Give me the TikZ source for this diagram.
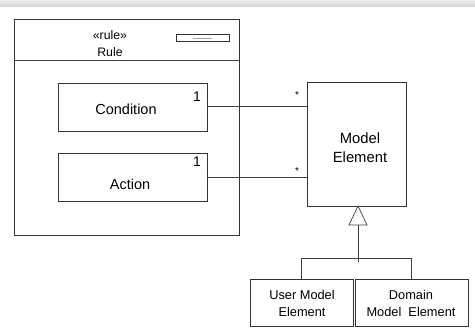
\documentclass[tikz,border=0pt]{standalone}
\usepackage{fontspec}
\setmainfont{Liberation Sans}
\begin{document}
\begin{tikzpicture}[x=1pt,y=-1pt,
  box/.style={draw=black!80,line width=0.8pt,rectangle,inner sep=0pt,align=center},
  conn/.style={draw=black!75,line width=0.7pt},
  mtxt/.style={font=\fontsize{14.5}{17}\selectfont},
  stxt/.style={font=\fontsize{12.8}{16}\selectfont,align=center},
  mult/.style={font=\fontsize{14}{16}\selectfont,inner sep=0pt},
  star/.style={font=\fontsize{10}{12}\selectfont,inner sep=0pt}]
\useasboundingbox (0,0) rectangle (475,336);
\shade[top color=black!8,bottom color=black!17] (0,0) rectangle (475,7);
% outer rule box
\node[box,minimum width=225pt,minimum height=216pt] (rule) at (126.5,127) {};
\coordinate (hl) at (14,60);
\coordinate (hr) at (239,60);
\draw[conn] (hl) -- (hr);
\node[stxt,font=\fontsize{12.3}{16}\selectfont] (stereo) at (110,35.5) {«rule»};
\node[stxt,font=\fontsize{12.3}{16}\selectfont] (rname) at (110,52) {Rule};
\node[box,minimum width=53pt,minimum height=7pt] (icon) at (202.5,38) {};
\fill[black!35] (193,37.6) rectangle (212,38.6);
% parts
\node[box,minimum width=149pt,minimum height=48pt] (cond) at (132.5,107) {};
\node[mtxt] (condt) at (126,109.5) {Condition};
\node[mult] (c1) at (197,96.5) {1};
\node[box,minimum width=149pt,minimum height=48pt] (act) at (132.5,177) {};
\node[mtxt] (actt) at (130,184) {Action};
\node[mult] (a1) at (197,161.5) {1};
% model element
\node[box,minimum width=99pt,minimum height=124pt] (me) at (356.5,144) {};
\node[mtxt,align=center,font=\fontsize{14.8}{19}\selectfont] (met) at (360,148) {Model\\Element};
\draw[conn] (cond.east |- 0,106) -- (me.west |- 0,106);
\draw[conn] (act.east |- 0,177) -- (me.west |- 0,177);
\node[star] (s1) at (297,95.5) {*};
\node[star] (s2) at (297,171) {*};
% subclasses
\node[box,minimum width=103pt,minimum height=47pt] (ume) at (301.5,302.5) {};
\node[stxt,font=\fontsize{12.8}{17}\selectfont] (umet) at (302,303) {User Model\\Element};
\node[box,minimum width=113pt,minimum height=47pt] (dme) at (411.5,302.5) {};
\node[stxt,font=\fontsize{12.8}{17}\selectfont] (dmet) at (411,303) {Domain\\Model\ \ Element};
\coordinate (tip) at (358,206);
\coordinate (tb) at (358,225);
\coordinate (junc) at (358,262);
\coordinate (hjl) at (301,258);
\coordinate (hjr) at (411,258);
\draw[conn,fill=white] (tip) -- (349,225) -- (367,225) -- cycle;
\draw[conn] (tb) -- (junc);
\draw[conn] (ume.north -| hjl) -- (hjl) -- (hjr) -- (dme.north -| hjr);
\end{tikzpicture}
\end{document}
